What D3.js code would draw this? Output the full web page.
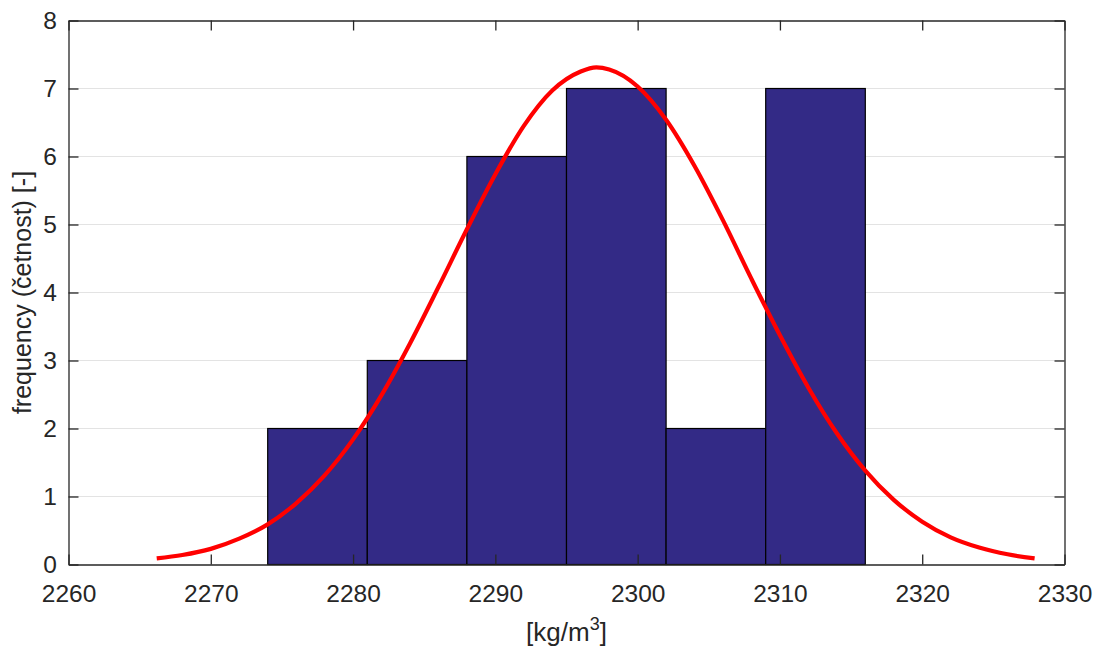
<!DOCTYPE html>
<html><head><meta charset="utf-8">
<script src="https://cdn.jsdelivr.net/npm/d3@7"></script>
<style>
body{margin:0;background:#fff;}
text{font-family:"Liberation Sans",Arial,sans-serif;fill:#262626;}
</style></head>
<body><svg id="c" width="1095" height="650"></svg>
<script>
// Histogram bins (edges in kg/m3) and counts
const binEdges = [2274, 2281, 2288, 2295, 2302, 2309, 2316];
const counts = [2, 3, 6, 7, 2, 7];
// Fitted normal curve
const curveX = [2266.2, 2268, 2270, 2272, 2274, 2276, 2278, 2280, 2282, 2284, 2286, 2288, 2290, 2292, 2294, 2296, 2297.1, 2298, 2300, 2302, 2304, 2306, 2308, 2310, 2312, 2314, 2316, 2318, 2320, 2322, 2324, 2326, 2327.9];
const curveY = [0.09, 0.14, 0.23, 0.38, 0.59, 0.90, 1.31, 1.84, 2.49, 3.25, 4.08, 4.93, 5.74, 6.45, 6.97, 7.25, 7.31, 7.28, 7.03, 6.54, 5.86, 5.06, 4.20, 3.37, 2.60, 1.93, 1.38, 0.95, 0.63, 0.40, 0.25, 0.15, 0.09];
const xTicks = [2260, 2270, 2280, 2290, 2300, 2310, 2320, 2330];
const yTicks = [0, 1, 2, 3, 4, 5, 6, 7, 8];

const svg = d3.select("#c");
const L = 68.5, R = 1064.5, T = 20.5, B = 564.5;
const x = d3.scaleLinear().domain([2260, 2330]).range([L, R]);
const y = d3.scaleLinear().domain([0, 8]).range([B, T]);
const axisCol = "#262626";

// grid
svg.append("g").selectAll("line").data(yTicks.slice(1, -1)).join("line")
  .attr("x1", L).attr("x2", R).attr("y1", d => y(d)).attr("y2", d => y(d))
  .attr("stroke", "#e3e3e3").attr("stroke-width", 1);

// bars
const bins = counts.map((c, i) => ({x0: binEdges[i], x1: binEdges[i + 1], c}));
svg.append("g").selectAll("rect").data(bins).join("rect")
  .attr("x", d => x(d.x0)).attr("width", d => x(d.x1) - x(d.x0))
  .attr("y", d => y(d.c)).attr("height", d => y(0) - y(d.c))
  .attr("fill", "#332a86").attr("stroke", "#000").attr("stroke-width", 1.2);

// curve
const pts = curveX.map((v, i) => [v, curveY[i]]);
svg.append("path").datum(pts)
  .attr("d", d3.line().x(d => x(d[0])).y(d => y(d[1])).curve(d3.curveMonotoneX))
  .attr("fill", "none").attr("stroke", "#ff0000").attr("stroke-width", 4.2)
  .attr("stroke-linejoin", "round");

// axes
const tickFmt = d3.format("d");
const gB = svg.append("g").attr("transform", `translate(0,${B})`)
  .call(d3.axisBottom(x).tickValues(xTicks).tickFormat(tickFmt).tickSizeInner(-10).tickSizeOuter(0).tickPadding(20));
const gT = svg.append("g").attr("transform", `translate(0,${T})`)
  .call(d3.axisTop(x).tickValues(xTicks).tickFormat("").tickSizeInner(-10).tickSizeOuter(0));
const gL = svg.append("g").attr("transform", `translate(${L},0)`)
  .call(d3.axisLeft(y).tickValues(yTicks).tickFormat(tickFmt).tickSizeInner(-10).tickSizeOuter(0).tickPadding(11.5));
const gR = svg.append("g").attr("transform", `translate(${R},0)`)
  .call(d3.axisRight(y).tickValues(yTicks).tickFormat("").tickSizeInner(-10).tickSizeOuter(0));
[gB, gT, gL, gR].forEach(g => {
  g.select(".domain").attr("stroke", axisCol).attr("stroke-width", 1.3);
  g.selectAll(".tick line").attr("stroke", axisCol).attr("stroke-width", 1.3);
  g.selectAll(".tick text").attr("font-size", 24.5).attr("fill", axisCol)
    .attr("font-family", "'Liberation Sans', Arial, sans-serif");
});

// labels
const xl = svg.append("text").attr("x", (L + R) / 2).attr("y", 641)
  .attr("text-anchor", "middle").attr("font-size", 26);
xl.append("tspan").text("[kg/m");
xl.append("tspan").attr("font-size", 18).attr("dy", -11).text("3");
xl.append("tspan").attr("dy", 11).text("]");

svg.append("text").attr("transform", `translate(31,${(T + B) / 2}) rotate(-90)`)
  .attr("text-anchor", "middle").attr("font-size", 25)
  .text("frequency (četnost) [-]");
</script></body></html>
